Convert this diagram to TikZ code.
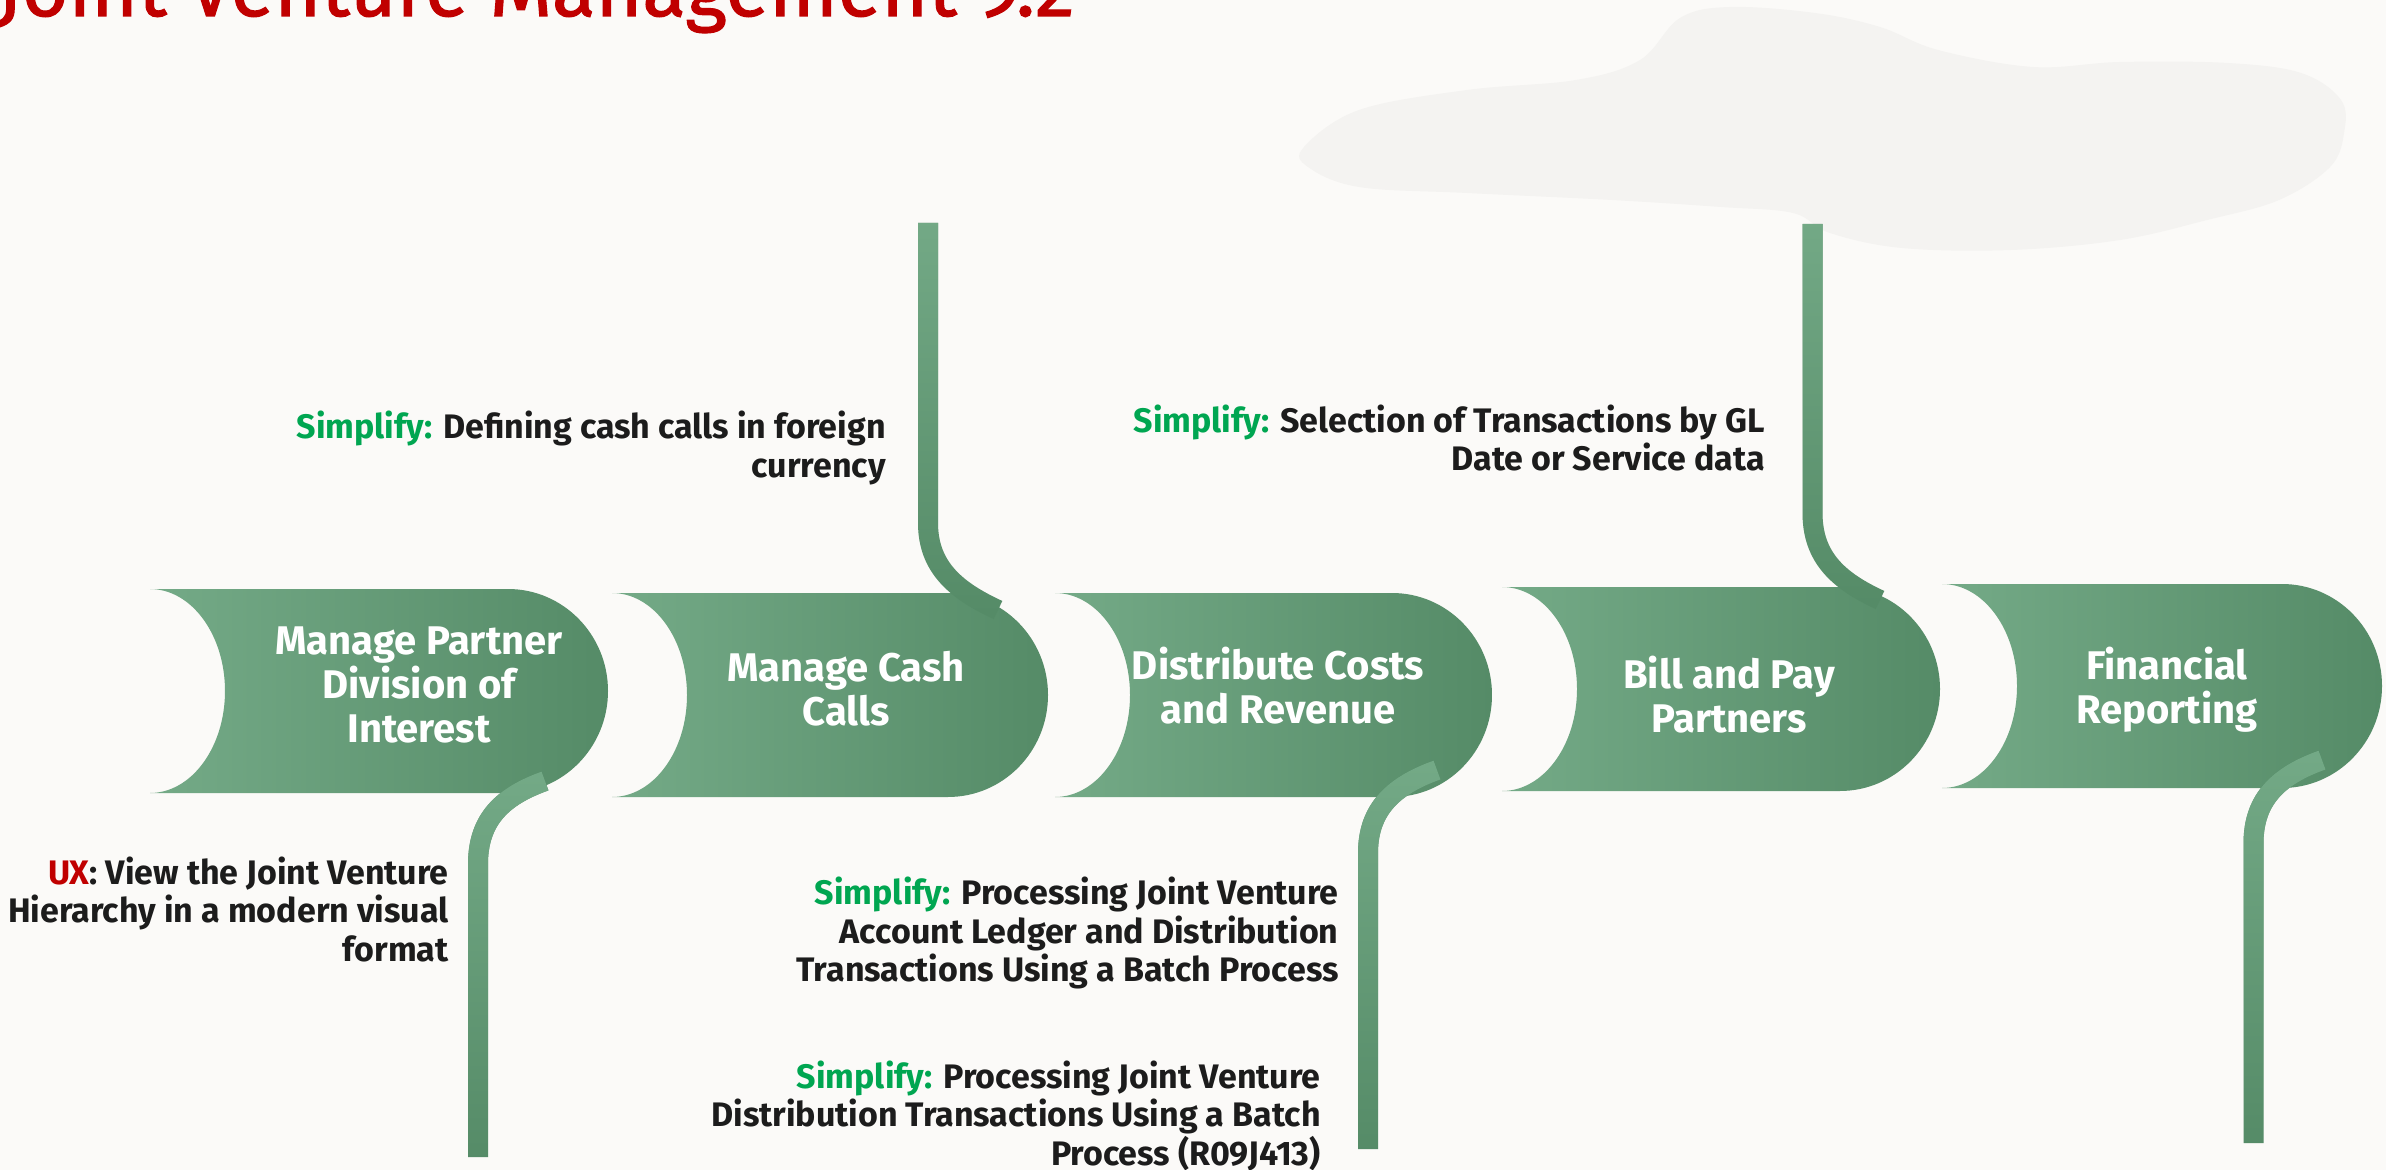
\documentclass[tikz,border=0pt]{standalone}
\usepackage{fontspec}
\setmainfont{Fira Sans}
\newfontfamily\headfont[FakeBold=1.4]{Fira Sans}
\usetikzlibrary{fadings}
\definecolor{paper}{HTML}{FBFAF8}
\definecolor{cloud}{HTML}{F4F3F1}
\definecolor{oraclered}{HTML}{C00000}
\definecolor{simplifygreen}{HTML}{00A651}
\definecolor{stagelight}{HTML}{74AA87}
\definecolor{stagedark}{HTML}{558B67}
\definecolor{ink}{HTML}{1C1C1C}
\tikzfading[name=fade down, top color=transparent!0, bottom color=transparent!100]
\tikzset{
  stage/.style={
    left color=stagelight,
    right color=stagedark,
  },
  stage label/.style={
    white,
    align=center,
    inner sep=0,
    font=\bfseries\fontsize{20}{22}\selectfont,
  },
  note/.style={
    ink,
    align=right,
    anchor=east,
    inner sep=0,
    font=\bfseries\fontsize{17}{19.25}\selectfont,
  },
  pipe/.style={
    line width=10pt,
    draw=stagedark,
  },
  pipe glow/.style={
    pipe,
    draw=stagelight,
    path fading=fade down,
  },
  headline/.style={
    oraclered,
    inner sep=0,
    font=\headfont\fontsize{40}{48}\selectfont,
  },
}
% one step of the flow: left x, top y, width
\newcommand\stage[3]{
  \shade[stage] (#1,#2) -- (#1+#3-100,#2)
    .. controls (#1+#3-44.8,#2) and (#1+#3,#2+45.7) .. (#1+#3,#2+102)
    .. controls (#1+#3,#2+158.3) and (#1+#3-44.8,#2+204) .. (#1+#3-100,#2+204)
    -- (#1,#2+204)
    .. controls (#1+41.4,#2+204) and (#1+75,#2+158.3) .. (#1+75,#2+102)
    .. controls (#1+75,#2+45.7) and (#1+41.4,#2) .. (#1,#2) -- cycle;
}
\newcommand\pipe[1]{
  \draw[pipe] #1;
  \draw[pipe glow] #1;
}
\newcommand\simplify{\textcolor{simplifygreen}{Simplify:}}

\begin{document}
\begin{tikzpicture}[x=0.5pt,y=-0.5pt]
  \useasboundingbox (0,0) rectangle (2386,1170);
  \fill[paper] (0,0) rectangle (2386,1170);

  % faint backdrop
  \fill[cloud] plot[smooth cycle, tension=0.6] coordinates {
    (1304,147) (1359,110) (1467,90) (1576,80) (1640,60) (1680,18)
    (1730,7) (1815,13) (1880,27) (1938,50) (2033,67) (2120,62)
    (2228,63) (2301,73) (2341,100) (2344,133) (2330,167) (2279,200)
    (2207,220) (2120,240) (2011,250) (1902,248) (1830,233) (1793,213)
    (1721,207) (1612,200) (1467,193) (1359,187) (1308,167)};

  \node[headline, anchor=base east] (title) at (1075,16) {Joint Venture Management 9.2};

  \stage{150}{589}{458}
  \stage{612}{593}{436}
  \stage{1055}{593}{437}
  \stage{1502}{587}{438}
  \stage{1942}{584}{440}

  \node[stage label] (partner)   at (419,685)  {Manage Partner\\Division of\\Interest};
  \node[stage label] (cash)      at (846,689)  {Manage Cash\\Calls};
  \node[stage label] (distrib)   at (1278,686) {Distribute Costs\\and Revenue};
  \node[stage label] (billing)   at (1729,695) {Bill and Pay\\Partners};
  \node[stage label] (reporting) at (2167,690) {Financial\\Reporting};

  \coordinate (cash top)  at (928,223);
  \coordinate (cash bend) at (928,523);
  \coordinate (cash end)  at (998,610);
  \coordinate (billing top)  at (1812.5,224);
  \coordinate (billing bend) at (1812.5,513);
  \coordinate (billing end)  at (1880,600);
  \coordinate (partner end)  at (545,781);
  \coordinate (partner bend) at (478,864);
  \coordinate (partner foot) at (478,1157);
  \coordinate (distrib end)  at (1437,770);
  \coordinate (distrib bend) at (1368,853);
  \coordinate (distrib foot) at (1368,1149);
  \coordinate (reporting end)  at (2322,760);
  \coordinate (reporting bend) at (2253.5,843);
  \coordinate (reporting foot) at (2253.5,1143);

  \pipe{(cash top) -- (cash bend) .. controls +(0,45) and +(-41,-19) .. (cash end)}
  \pipe{(billing top) -- (billing bend) .. controls +(0,45) and +(-41,-19) .. (billing end)}
  \pipe{(partner end) .. controls +(-42,15) and +(0,-45) .. (partner bend) -- (partner foot)}
  \pipe{(distrib end) .. controls +(-42,15) and +(0,-45) .. (distrib bend) -- (distrib foot)}
  \pipe{(reporting end) .. controls +(-42,15) and +(0,-45) .. (reporting bend) -- (reporting foot)}

  \node[note] (cash note) at (886,448) {\simplify{} Defining cash calls in foreign\\currency};
  \node[note] (billing note) at (1765,438) {\simplify{} Selection of Transactions by GL\\Date or Service data};
  \node[note] (partner note) at (449,909) {\textcolor{oraclered}{UX}: View the Joint Venture\\Hierarchy in a modern visual\\format};
  \node[note] (ledger note) at (1339,933) {\simplify{} Processing Joint Venture\\Account Ledger and Distribution\\Transactions Using a Batch Process};
  \node[note] (batch note) at (1321,1116) {\simplify{} Processing Joint Venture\\Distribution Transactions Using a Batch\\Process (R09J413)};
\end{tikzpicture}
\end{document}
